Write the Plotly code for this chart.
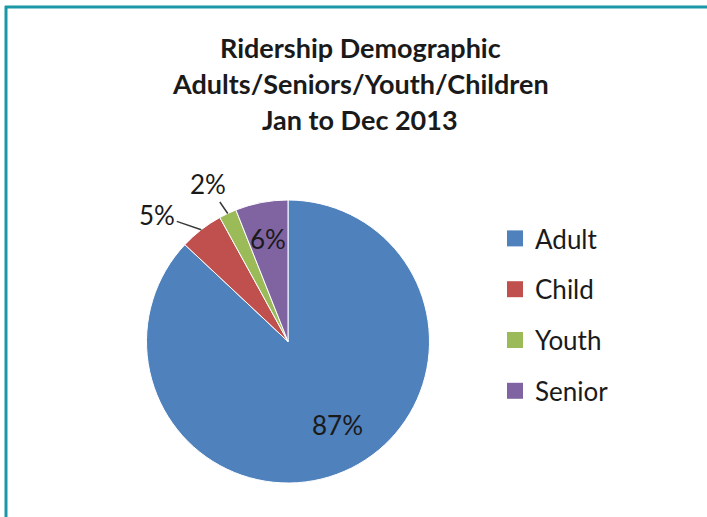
import math
import plotly.graph_objects as go

categories = ["Adult", "Child", "Youth", "Senior"]
values = [87, 5, 2, 6]
colors = ["#4F81BD", "#C0504D", "#9BBB59", "#8064A2"]
title_lines = ["Ridership Demographic", "Adults/Seniors/Youth/Children", "Jan to Dec 2013"]

W, H = 707, 517
FONT = "Lato, 'Open Sans', sans-serif"
TXT = "#1a1a1a"

# label placement (layout only): inside labels -> (radius fraction, angle tweak in deg)
# outside labels -> pixel offset of the text from the slice edge
label_layout = {
    0: ("inside", 0.685, -7.0),
    1: ("outside", -44, -15),
    2: ("outside", -20, -29),
    3: ("inside", 0.74, 0.0),
}

# pie geometry (pixels)
cx, cy, r = 288, 341.5, 141.5
dom_x = [(cx - r) / W, (cx + r) / W]
dom_y = [(H - (cy + r)) / H, (H - (cy - r)) / H]

fig = go.Figure()
fig.add_trace(go.Pie(
    labels=categories,
    values=values,
    marker=dict(colors=colors, line=dict(color="white", width=1)),
    sort=False,
    direction="clockwise",
    rotation=0,
    textinfo="none",
    domain=dict(x=dom_x, y=dom_y),
    showlegend=False,
))

# legend entries
for cat, col in zip(categories, colors):
    fig.add_trace(go.Scatter(
        x=[None], y=[None], mode="markers", name=cat, legendgroup=cat,
        marker=dict(symbol="square", size=17, color=col), showlegend=True,
    ))

annotations = []
for i, t in enumerate(title_lines):
    annotations.append(dict(
        text=f"<b>{t}</b>", x=360 / W, y=1 - (47 + 36 * i) / H, xref="paper", yref="paper",
        xanchor="center", yanchor="middle", showarrow=False,
        font=dict(family=FONT, size=27, color=TXT),
    ))

# percentage labels placed from the slice angles
total = sum(values)
cum = 0
for i, v in enumerate(values):
    mid = (cum + v / 2) / total * 2 * math.pi
    cum += v
    pct = f"{round(v / total * 100)}%"
    kind, a, b = label_layout[i]
    if kind == "inside":
        ang = mid + math.radians(b)
        px = cx + a * r * math.sin(ang)
        py = cy - a * r * math.cos(ang)
        annotations.append(dict(
            text=pct, x=px / W, y=1 - py / H, xref="paper", yref="paper",
            xanchor="center", yanchor="middle", showarrow=False,
            font=dict(family=FONT, size=26, color=TXT),
        ))
    else:
        px = cx + r * math.sin(mid)
        py = cy - r * math.cos(mid)
        annotations.append(dict(
            text=pct, x=px / W, y=1 - py / H, xref="paper", yref="paper",
            showarrow=True, arrowhead=0, arrowwidth=1.5, arrowcolor="#3a3a3a",
            ax=a, ay=b, standoff=0, startstandoff=0,
            font=dict(family=FONT, size=26, color=TXT),
        ))

teal = "#1B98A6"
shapes = [
    dict(type="line", xref="paper", yref="paper", x0=5 / W, x1=1, y0=1 - 7 / H, y1=1 - 7 / H,
         line=dict(color=teal, width=3)),
    dict(type="line", xref="paper", yref="paper", x0=6 / W, x1=6 / W, y0=0, y1=1 - 6 / H,
         line=dict(color=teal, width=3)),
]

fig.update_layout(
    width=W, height=H,
    margin=dict(l=0, r=0, t=0, b=0),
    paper_bgcolor="white", plot_bgcolor="white",
    xaxis=dict(visible=False), yaxis=dict(visible=False),
    annotations=annotations,
    shapes=shapes,
    legend=dict(x=495 / W, y=1 - 215 / H, xanchor="left", yanchor="top",
                font=dict(family=FONT, size=26, color=TXT),
                itemwidth=30, tracegroupgap=14, traceorder="grouped",
                bgcolor="rgba(0,0,0,0)"),
)

fig.write_html("out.html", config={"displayModeBar": False},
               post_script="document.body.style.margin='0';")
